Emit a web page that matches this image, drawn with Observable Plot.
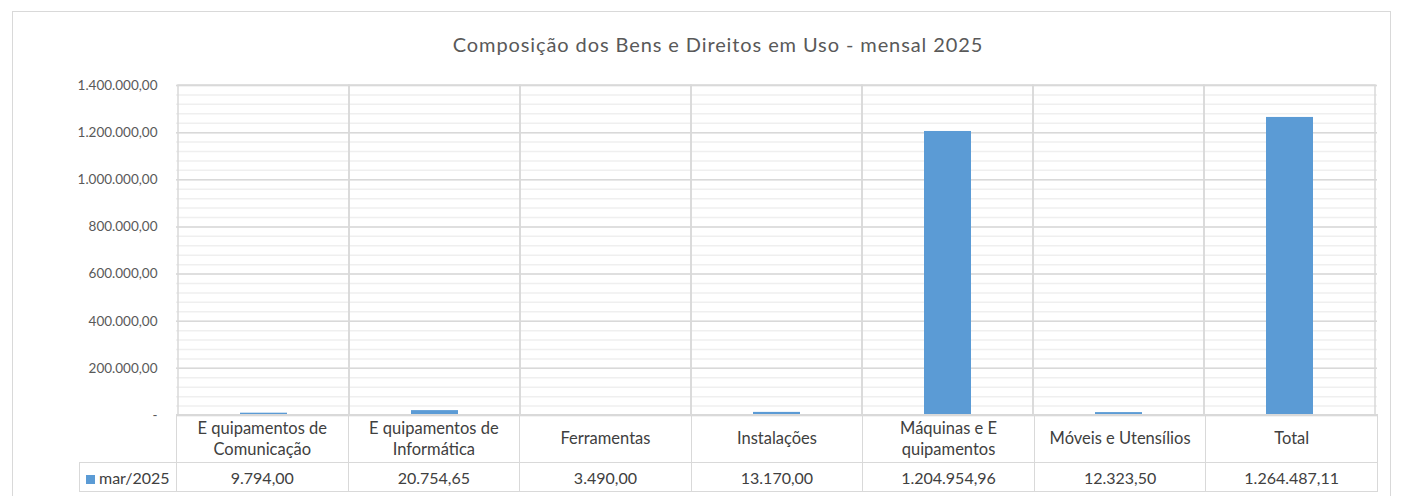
<!DOCTYPE html>
<html><head><meta charset="utf-8">
<script src="https://cdn.jsdelivr.net/npm/d3@7"></script>
<script src="https://cdn.jsdelivr.net/npm/@observablehq/plot@0.6"></script>
<style>
body{margin:0;background:#fff;}
#wrap{position:relative;width:1403px;height:496px;overflow:hidden;font-family:Lato,"Open Sans",sans-serif;color:#404040;background:#fff;}
#border{position:absolute;left:12px;top:11px;width:1379px;height:520px;border:1.5px solid #d9d9d9;box-sizing:border-box;}
#title{position:absolute;left:218px;width:1000px;top:31px;text-align:center;font-size:20px;letter-spacing:0.9px;color:#595959;line-height:26px;}
#chart{position:absolute;left:0;top:0;}
#tbl{position:absolute;left:79px;top:414px;border-collapse:collapse;table-layout:fixed;width:1299px;}
#tbl td{border:1.5px solid #d9d9d9;text-align:center;font-size:16.5px;color:#404040;padding:0;white-space:pre-line;}
#tbl tr.head td{height:47px;line-height:21px;}
#tbl tr.vals td{height:28px;font-size:16px;}
#tbl td.blank{border-top:none;border-left:none;}
.sw{display:inline-block;width:9px;height:9px;background:#5B9BD5;margin-right:4px;vertical-align:0px;}
</style>
</head><body>
<div id="wrap">
  <div id="border"></div>
  <div id="title"></div>
  <div id="chart"></div>
  <table id="tbl"></table>
</div>
<script>
const chartTitle = "Composição dos Bens e Direitos em Uso - mensal 2025";
const categories = ["E quipamentos de\nComunicação", "E quipamentos de\nInformática", "Ferramentas", "Instalações", "Máquinas e E\nquipamentos", "Móveis e Utensílios", "Total"];
const values = [9794.00, 20754.65, 3490.00, 13170.00, 1204954.96, 12323.50, 1264487.11];
const seriesName = "mar/2025";
const yTicks = [0, 200000, 400000, 600000, 800000, 1000000, 1200000, 1400000];
const yMax = 1400000;
const minorStep = 40000;

const fmt = d3.formatLocale({decimal: ",", thousands: ".", grouping: [3], currency: ["", ""]}).format(",.2f");
const data = categories.map((c, i) => ({cat: c, value: values[i]}));
const minorTicks = d3.range(0, yMax + 1, minorStep);

document.getElementById("title").textContent = chartTitle;

const chart = Plot.plot({
  width: 1403, height: 416,
  marginLeft: 176, marginRight: 26, marginTop: 85, marginBottom: 1,
  style: {background: "transparent", fontFamily: "Lato, 'Open Sans', sans-serif", fontSize: "13.5px", color: "#595959", overflow: "visible"},
  x: {type: "band", domain: categories, padding: 0, axis: null},
  y: {domain: [0, yMax], axis: null},
  marks: [
    Plot.ruleY(minorTicks, {stroke: "#efefef", strokeWidth: 1.5}),
    Plot.ruleY(yTicks, {stroke: "#d9d9d9", strokeWidth: 1.5}),
    Plot.cell(categories, {x: d => d, fill: "none", stroke: "#d9d9d9", strokeWidth: 1.5}),
    Plot.barY(data, {x: "cat", y: "value", fill: "#5B9BD5", insetLeft: 62, insetRight: 62}),
    Plot.axisY(yTicks, {label: null, tickSize: 0, tickPadding: 19, tickFormat: d => d === 0 ? "-" : fmt(d), fill: "#595959"})
  ]
});
document.getElementById("chart").appendChild(chart);

// data table below the chart
const tbl = document.getElementById("tbl");
const colgroup = document.createElement("colgroup");
const c0 = document.createElement("col"); c0.style.width = "97px"; colgroup.appendChild(c0);
categories.forEach(() => { const c = document.createElement("col"); c.style.width = ((1377 - 176) / categories.length) + "px"; colgroup.appendChild(c); });
tbl.appendChild(colgroup);
const head = document.createElement("tr"); head.className = "head";
const b = document.createElement("td"); b.className = "blank"; head.appendChild(b);
categories.forEach(c => { const td = document.createElement("td"); td.textContent = c; head.appendChild(td); });
tbl.appendChild(head);
const row = document.createElement("tr"); row.className = "vals";
const lg = document.createElement("td");
lg.style.textAlign = "left"; lg.style.paddingLeft = "6px";
lg.innerHTML = '<span class="sw"></span>';
lg.appendChild(document.createTextNode(seriesName));
row.appendChild(lg);
values.forEach(v => { const td = document.createElement("td"); td.textContent = fmt(v); row.appendChild(td); });
tbl.appendChild(row);
</script>
</body></html>
